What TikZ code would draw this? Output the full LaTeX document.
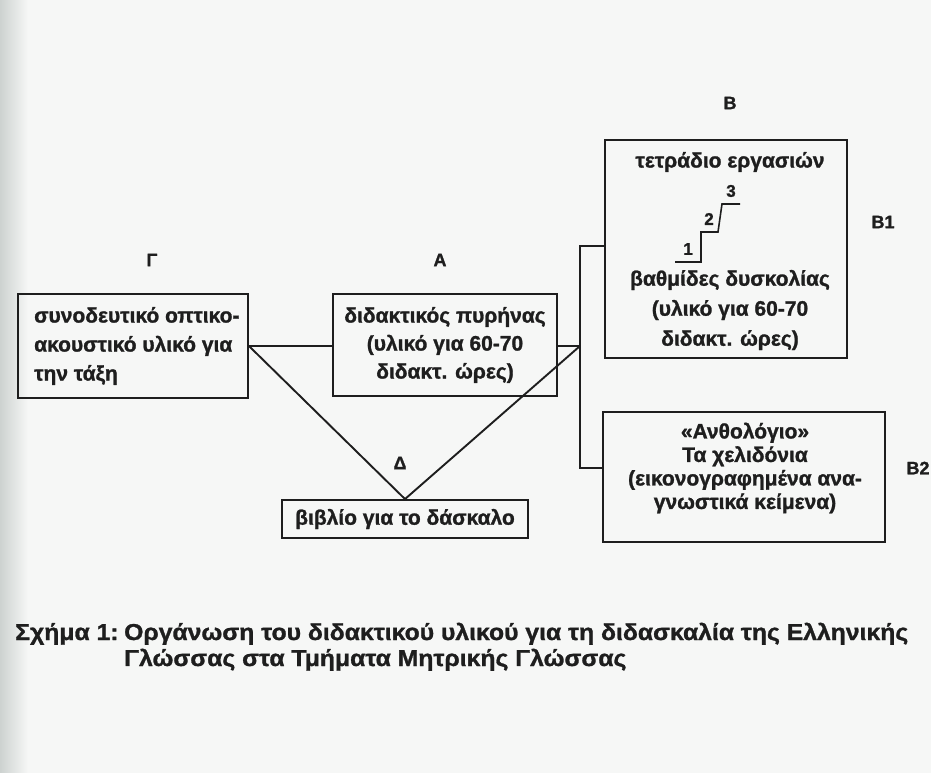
\documentclass[tikz,border=0pt]{standalone}
\usepackage{fontspec}
\setmainfont{Liberation Sans}[BoldFeatures={FakeBold=1.2}]
\newfontfamily\capfont{Liberation Sans}[FakeStretch=1.075,BoldFeatures={FakeBold=1.2}]
\definecolor{inkc}{RGB}{30,30,30}
\definecolor{bgc}{RGB}{246,247,246}
\definecolor{shadec}{RGB}{205,210,208}
\begin{document}
\begin{tikzpicture}[x=1pt,y=-1pt,
  ink/.style={draw=inkc, line width=1.9pt},
  box/.style={ink, inner sep=0pt},
  txt/.style={text=inkc, font=\bfseries\fontsize{21}{29}\selectfont, align=center, inner sep=0pt},
  lbl/.style={text=inkc, font=\bfseries\fontsize{18}{20}\selectfont, inner sep=0pt},
  dig/.style={text=inkc, font=\bfseries\fontsize{17}{18}\selectfont, inner sep=0pt},
  captxt/.style={text=inkc, font=\capfont\bfseries\fontsize{23}{25}\selectfont, inner sep=0pt}]
\useasboundingbox (0,0) rectangle (931,773);
\fill[bgc] (0,0) rectangle (931,773);
\shade[left color=shadec, right color=bgc] (0,0) rectangle (28,773);

% boxes
\node[box, minimum width=230, minimum height=104] (G) at (133,346) {};
\node[box, minimum width=224, minimum height=102] (A) at (445,345) {};
\node[box, minimum width=246, minimum height=38] (D) at (405,519) {};
\node[box, minimum width=242, minimum height=218] (B1) at (726,249) {};
\node[box, minimum width=282, minimum height=130] (B2) at (744,477) {};

% texts
\node[txt, align=left, anchor=west] (Gt) at (34,346) {συνοδευτικό οπτικο-\\ακουστικό υλικό για\\την τάξη};
\node[txt, font=\bfseries\fontsize{21}{28}\selectfont] (At) at (445,345) {διδακτικός πυρήνας\\(υλικό για 60-70\\διδακτ. ώρες)};
\node[txt] (Dt) at (405,519) {βιβλίο για το δάσκαλο};
\node[txt] (B1h) at (730,162) {τετράδιο εργασιών};
\node[txt, font=\bfseries\fontsize{21}{30}\selectfont] (B1t) at (730,310) {βαθμίδες δυσκολίας\\(υλικό για 60-70\\διδακτ. ώρες)};
\node[txt, font=\bfseries\fontsize{21}{23.5}\selectfont] (B2t) at (745,468) {«Ανθολόγιο»\\Τα χελιδόνια\\(εικονογραφημένα ανα-\\γνωστικά κείμενα)};

% letter labels
\node[lbl] (LG) at (152,260) {Γ};
\node[lbl] (LA) at (440,260) {Α};
\node[lbl] (LD) at (400,463) {Δ};
\node[lbl] (LB) at (730,103) {Β};
\node[lbl] (LB1) at (883,222) {Β1};
\node[lbl] (LB2) at (918,468) {Β2};

% stairs
\draw[draw=inkc, line width=1.6pt] (675,262) -- (701,262) -- (701,232) -- (718,232) -- (722,204) -- (740,204);
\node[dig] (s1) at (688,249) {1};
\node[dig] (s2) at (709,219) {2};
\node[dig] (s3) at (731,191) {3};

% connectors
\coordinate (J) at (580,346);
\coordinate (Jt) at (580,246);
\coordinate (Jb) at (580,468);
\draw[ink] (G.east) -- (G.east -| A.west);
\draw[ink] (J -| A.east) -- (J);
\draw[ink] (G.east) -- (D.north);
\draw[ink] (J) -- (D.north);
\draw[ink] (Jt -| B1.west) -- (Jt) -- (Jb) -- (Jb -| B2.west);

% caption
\node[captxt, anchor=base west] (c0) at (15,640) {Σχήμα 1:};
\node[captxt, anchor=base west] (c1) at (124,640) {Οργάνωση του διδακτικού υλικού για τη διδασκαλία της Ελληνικής};
\node[captxt, anchor=base west] (c2) at (124,666) {Γλώσσας στα Τμήματα Μητρικής Γλώσσας};
\end{tikzpicture}
\end{document}
